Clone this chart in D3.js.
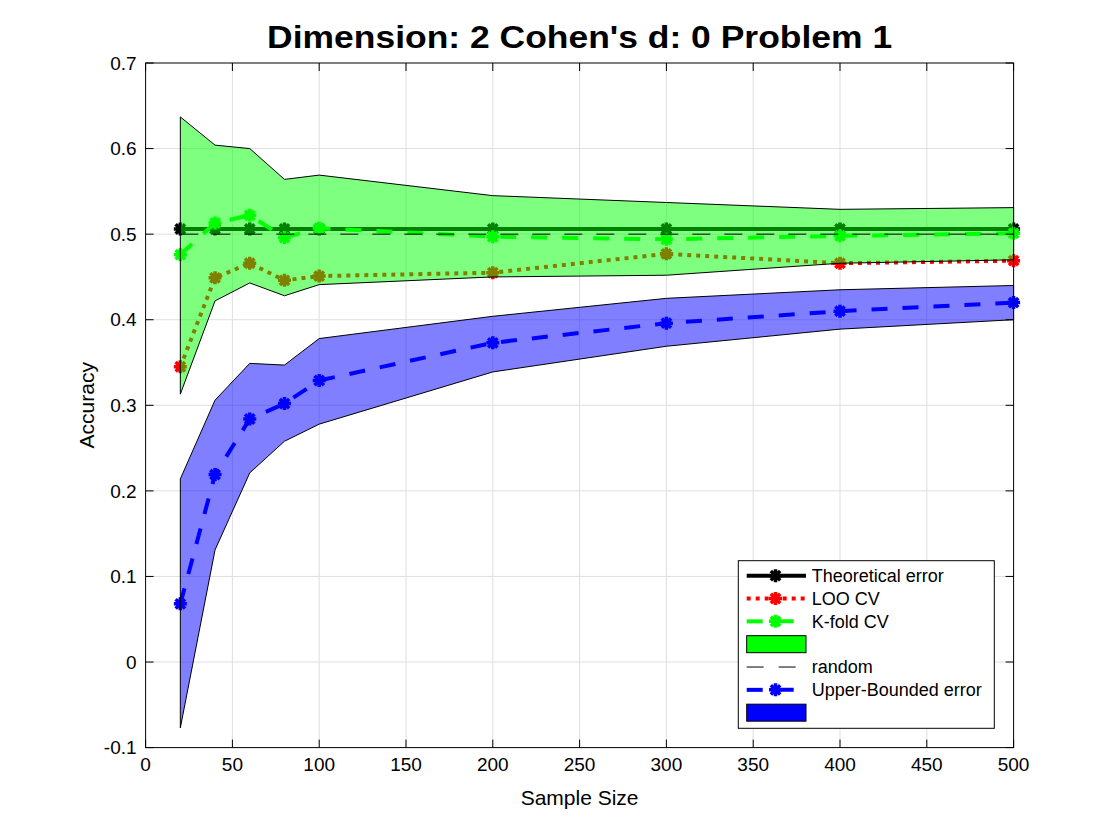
<html>
<head>
    <meta charset="utf-8">
    <script src="https://d3js.org/d3.v7.min.js"></script>
</head>
<body style="margin:0;background:#fff">
    <svg id="acc_plot" width="1120" height="840"></svg>
</body>
<style>
    text{font-family: "Liberation Sans", Arial, sans-serif}
</style>
<script>

    // values
    const sampleSizes  = [20, 40, 60, 80, 100, 200, 300, 400, 500]
    const theoretical  = [0.506, 0.506, 0.506, 0.506, 0.506, 0.506, 0.506, 0.506, 0.506]
    const looCV        = [0.345, 0.449, 0.466, 0.446, 0.451, 0.455, 0.477, 0.466, 0.469]
    const kfoldCV      = [0.476, 0.513, 0.522, 0.496, 0.507, 0.497, 0.494, 0.498, 0.501]
    const kfoldHigh    = [0.637, 0.604, 0.600, 0.564, 0.569, 0.545, 0.537, 0.529, 0.531]
    const kfoldLow     = [0.313, 0.422, 0.443, 0.428, 0.441, 0.450, 0.452, 0.466, 0.470]
    const randomLevel  = [0.5, 0.5, 0.5, 0.5, 0.5, 0.5, 0.5, 0.5, 0.5]
    const upperBound   = [0.068, 0.219, 0.284, 0.302, 0.329, 0.373, 0.396, 0.410, 0.420]
    const ubHigh       = [0.214, 0.306, 0.349, 0.347, 0.378, 0.404, 0.425, 0.435, 0.440]
    const ubLow        = [-0.077, 0.131, 0.221, 0.258, 0.278, 0.339, 0.369, 0.389, 0.400]

    const xTicks = [0, 50, 100, 150, 200, 250, 300, 350, 400, 450, 500]
    const yTicks = [-0.1, 0, 0.1, 0.2, 0.3, 0.4, 0.5, 0.6, 0.7]
    const yTickLabels = ['-0.1', '0', '0.1', '0.2', '0.3', '0.4', '0.5', '0.6', '0.7']

    const legendLabels = ['Theoretical error', 'LOO CV', 'K-fold CV', '', 'random', 'Upper-Bounded error', '']

    let svg = d3.select('svg#acc_plot');
    const margin = {top:63, right:106.4, bottom:92.4, left:145.6}
    const width = +svg.attr('width')
    const height = +svg.attr('height')
    const plotW = width - margin.left - margin.right
    const plotH = height - margin.top - margin.bottom

    svg.append('rect').attr('width', width).attr('height', height).attr('fill', 'white')

    let x = d3.scaleLinear().domain([0, 500]).range([margin.left, margin.left + plotW])
    let y = d3.scaleLinear().domain([-0.1, 0.7]).range([margin.top + plotH, margin.top])

    // grid
    let grid = svg.append('g').attr('stroke', '#dfdfdf').attr('stroke-width', 1)
    grid.selectAll('line.gx').data(xTicks.slice(1, -1)).join('line')
        .attr('x1', d => x(d)).attr('x2', d => x(d))
        .attr('y1', margin.top).attr('y2', margin.top + plotH)
    grid.selectAll('line.gy').data(yTicks.slice(1, -1)).join('line')
        .attr('y1', d => y(d)).attr('y2', d => y(d))
        .attr('x1', margin.left).attr('x2', margin.left + plotW)

    const pts = vals => sampleSizes.map((s, i) => [s, vals[i]])
    const line = d3.line().x(d => x(d[0])).y(d => y(d[1]))

    // asterisk marker like matlab '*'
    const star = r => `M${-r},0L${r},0M0,${-r}L0,${r}` +
        `M${-r*0.72},${-r*0.72}L${r*0.72},${r*0.72}M${-r*0.72},${r*0.72}L${r*0.72},${-r*0.72}`

    function drawSeries(vals, color, dash){
        let g = svg.append('g')
        g.append('path')
         .attr('d', line(pts(vals)))
         .attr('fill', 'none')
         .attr('stroke', color)
         .attr('stroke-width', 4)
         .attr('stroke-dasharray', dash)
        g.selectAll('path.mk').data(pts(vals)).join('path')
         .attr('class', 'mk')
         .attr('d', star(6.5))
         .attr('transform', d => `translate(${x(d[0])},${y(d[1])})`)
         .attr('stroke', color)
         .attr('stroke-width', 3.5)
         .attr('fill', 'none')
    }

    function drawBand(hi, lo, color){
        let poly = pts(hi).concat(pts(lo).reverse())
        svg.append('path')
           .attr('d', line(poly) + 'Z')
           .attr('fill', color)
           .attr('fill-opacity', 0.5)
           .attr('stroke', 'black')
           .attr('stroke-width', 1)
    }

    drawSeries(theoretical, 'black', null)
    drawSeries(looCV, '#ff0000', '4,5')
    drawSeries(kfoldCV, '#00ff00', '16,15')
    drawBand(kfoldHigh, kfoldLow, '#00ff00')
    svg.append('path')
       .attr('d', line(pts(randomLevel)))
       .attr('fill', 'none')
       .attr('stroke', 'black')
       .attr('stroke-width', 1)
       .attr('stroke-dasharray', '18,14')
    drawSeries(upperBound, '#0000ff', '16,15')
    drawBand(ubHigh, ubLow, '#0000ff')

    // axes box and ticks (inward, all four sides)
    svg.append('rect')
       .attr('x', margin.left).attr('y', margin.top)
       .attr('width', plotW).attr('height', plotH)
       .attr('fill', 'none').attr('stroke', 'black').attr('stroke-width', 1)

    let ticks = svg.append('g').attr('stroke', 'black').attr('stroke-width', 1)
    xTicks.forEach(t => {
        ticks.append('line').attr('x1', x(t)).attr('x2', x(t))
             .attr('y1', margin.top + plotH).attr('y2', margin.top + plotH - 8)
        ticks.append('line').attr('x1', x(t)).attr('x2', x(t))
             .attr('y1', margin.top).attr('y2', margin.top + 8)
    })
    yTicks.forEach(t => {
        ticks.append('line').attr('y1', y(t)).attr('y2', y(t))
             .attr('x1', margin.left).attr('x2', margin.left + 8)
        ticks.append('line').attr('y1', y(t)).attr('y2', y(t))
             .attr('x1', margin.left + plotW).attr('x2', margin.left + plotW - 8)
    })

    svg.selectAll('text.xt').data(xTicks).join('text')
       .attr('class', 'xt')
       .attr('x', d => x(d)).attr('y', margin.top + plotH + 23)
       .attr('text-anchor', 'middle')
       .attr('font-size', '19px')
       .text(d => d)

    svg.selectAll('text.yt').data(yTicks).join('text')
       .attr('class', 'yt')
       .attr('x', margin.left - 9).attr('y', d => y(d))
       .attr('dy', '0.35em')
       .attr('text-anchor', 'end')
       .attr('font-size', '19px')
       .text((d, i) => yTickLabels[i])

    svg.append('text')
       .attr('x', margin.left + plotW/2).attr('y', 805)
       .attr('text-anchor', 'middle')
       .attr('font-size', '21px')
       .text('Sample Size')

    svg.append('text')
       .attr('transform', `translate(94,${margin.top + plotH/2}) rotate(-90)`)
       .attr('text-anchor', 'middle')
       .attr('font-size', '21px')
       .text('Accuracy')

    svg.append('text')
       .attr('x', margin.left + plotW/2).attr('y', 48)
       .attr('text-anchor', 'middle')
       .attr('font-size', '32px')
       .attr('font-weight', 'bold')
       .attr('textLength', 625)
       .attr('lengthAdjust', 'spacingAndGlyphs')
       .text("Dimension: 2 Cohen's d: 0 Problem 1")

    // legend
    const legStyle = [
        {type:'line', color:'black', dash:null, marker:true},
        {type:'line', color:'#ff0000', dash:'4,5', marker:true},
        {type:'line', color:'#00ff00', dash:'16,15', marker:true},
        {type:'patch', color:'#00ff00'},
        {type:'thin', color:'black', dash:'17,15'},
        {type:'line', color:'#0000ff', dash:'16,15', marker:true},
        {type:'patch', color:'#0000ff'}
    ]
    let leg = svg.append('g')
    leg.append('rect')
       .attr('x', 738.3).attr('y', 560.7)
       .attr('width', 256).attr('height', 167.6)
       .attr('fill', 'white').attr('stroke', 'black').attr('stroke-width', 1)

    legendLabels.forEach((lab, i) => {
        let ly = 575.7 + i*22.83
        let st = legStyle[i]
        if (st.type === 'patch'){
            leg.append('rect')
               .attr('x', 746.7).attr('y', ly - 8.5)
               .attr('width', 59.3).attr('height', 17)
               .attr('fill', st.color)
               .attr('stroke', 'black').attr('stroke-width', 1)
        } else {
            leg.append('line')
               .attr('x1', 746.7).attr('x2', 806)
               .attr('y1', ly).attr('y2', ly)
               .attr('stroke', st.color)
               .attr('stroke-width', st.type === 'thin' ? 1 : 4)
               .attr('stroke-dasharray', st.dash)
            if (st.marker){
                leg.append('path')
                   .attr('d', star(6.5))
                   .attr('transform', `translate(775.5,${ly})`)
                   .attr('stroke', st.color)
                   .attr('stroke-width', 3.5)
                   .attr('fill', 'none')
            }
        }
        leg.append('text')
           .attr('x', 811.7).attr('y', ly)
           .attr('dy', '0.35em')
           .attr('font-size', '18px')
           .text(lab)
    })

</script>

</html>
